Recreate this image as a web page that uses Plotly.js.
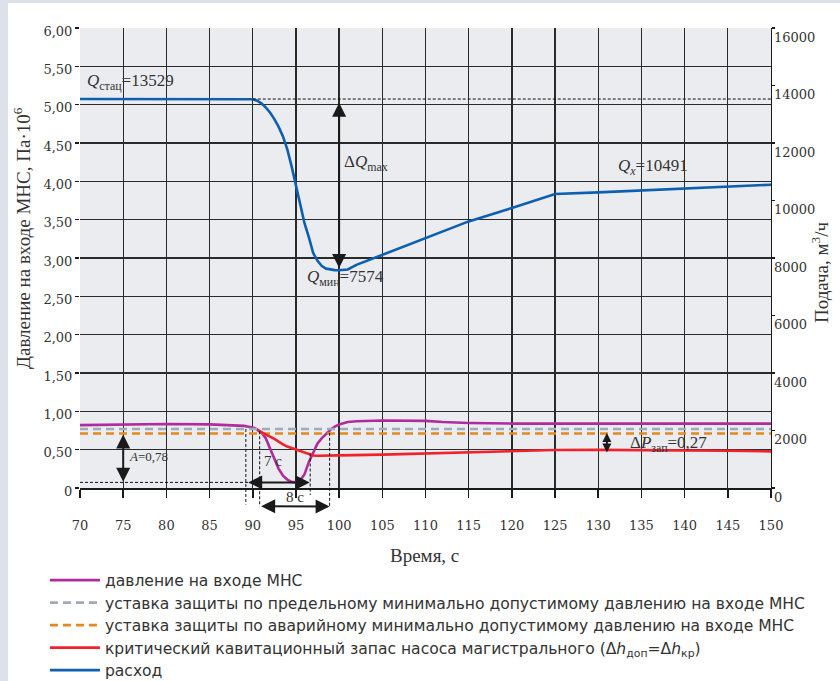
<!DOCTYPE html>
<html>
<head>
<meta charset="utf-8">
<script src="https://cdn.plot.ly/plotly-3.0.1.min.js"></script>
<style>
html,body{margin:0;padding:0;background:#dde2ea;width:840px;height:681px;overflow:hidden;}
#chart{position:absolute;left:8px;top:3px;width:832px;height:700px;background:#fff;}
</style>
</head>
<body>
<div id="chart"></div>
<script>
// ---- Data ----
const flowTime = [70, 89.5, 90, 90.5, 91, 91.5, 92, 92.5, 93, 93.5, 94, 94.5, 95, 95.5, 96, 96.5, 97, 97.5, 98, 98.5, 99, 99.5, 100, 100.5, 101, 102, 105, 110, 115, 120, 125, 130, 135, 140, 145, 150];
const flowValue = [13529, 13529, 13520, 13470, 13380, 13240, 13060, 12830, 12560, 12229, 11780, 11186, 10500, 9820, 9200, 8720, 8174, 7900, 7720, 7630, 7593, 7580, 7574, 7576, 7600, 7760, 8110, 8680, 9273, 9739, 10226, 10282, 10351, 10421, 10490, 10549];

const pressTime = [70, 75, 80, 85, 88, 89, 89.5, 90, 90.5, 91, 91.5, 92, 92.5, 93, 93.5, 94, 94.5, 95, 95.5, 96, 96.5, 97, 97.5, 98, 98.5, 99, 99.5, 100, 101, 102, 105, 110, 112, 115, 120, 130, 140, 150];
const pressValue = [0.82, 0.83, 0.835, 0.83, 0.82, 0.81, 0.80, 0.79, 0.765, 0.725, 0.65, 0.52, 0.38, 0.25, 0.16, 0.11, 0.08, 0.075, 0.10, 0.18, 0.34, 0.47, 0.58, 0.65, 0.71, 0.76, 0.80, 0.83, 0.86, 0.87, 0.88, 0.875, 0.86, 0.848, 0.84, 0.84, 0.84, 0.84];

const critTime = [90.6, 91, 91.5, 92, 92.5, 93, 93.5, 94, 94.5, 95, 95.5, 96, 96.5, 97, 97.5, 98, 100, 105, 110, 115, 120, 125, 130, 135, 140, 145, 150];
const critValue = [0.75, 0.73, 0.70, 0.67, 0.64, 0.60, 0.57, 0.54, 0.52, 0.50, 0.48, 0.455, 0.435, 0.425, 0.42, 0.42, 0.425, 0.435, 0.45, 0.468, 0.485, 0.495, 0.497, 0.495, 0.49, 0.485, 0.478];

const limitTime = [70, 150];
const limitValue = [0.77, 0.77];      // предельная уставка
const alarmValue = [0.71, 0.71];      // аварийная уставка

const Qstat = 13529, Qmin = 7574, Qx = 10491;
const Amin = 0.073, Amax = 0.717;
const dPtop = 0.738, dPbot = 0.464, dPtime = 131;
const sevenStart = 89.3, sevenEnd = 96.6;
const eightStart = 90.8, eightEnd = 98.9;
const guideTimes = [89.2, 90.8, 96.65, 98.9];
const guideTop = [0.77, 0.74, 0.45, 0.72];

const xTicks = [70,75,80,85,90,95,100,105,110,115,120,125,130,135,140,145,150];
const yTicks = [0,0.5,1,1.5,2,2.5,3,3.5,4,4.5,5,5.5,6];
const yTickText = ['0','0,50','1,00','1,50','2,00','2,50','3,00','3,50','4,00','4,50','5,00','5,50','6,00'];
const y2Ticks = [0,2000,4000,6000,8000,10000,12000,14000,16000];

const names = [
  'давление на входе МНС',
  'уставка защиты по предельному минимально допустимому давлению на входе МНС',
  'уставка защиты по аварийному минимально допустимому давлению на входе МНС',
  'критический кавитационный запас насоса магистрального (Δ<i>h</i><sub>доп</sub>=Δ<i>h</i><sub>кр</sub>)',
  'расход'
];

// ---- Styles ----
const serif = 'Liberation Serif, Times New Roman, serif';
const tickFont = {family: 'DejaVu Serif, serif', size: 13, color: '#333'};
const txt = '#333';
const arrowCol = '#1a1a1a';

const traces = [
  {x: pressTime, y: pressValue, name: names[0], mode: 'lines', line: {color: '#b02c9d', width: 2.6}, yaxis: 'y'},
  {x: limitTime, y: limitValue, name: names[1], mode: 'lines', line: {color: '#9eabb8', width: 2.6, dash: '8px,5px'}, yaxis: 'y'},
  {x: limitTime, y: alarmValue, name: names[2], mode: 'lines', line: {color: '#e5891f', width: 2.6, dash: '8px,5px'}, yaxis: 'y'},
  {x: critTime, y: critValue, name: names[3], mode: 'lines', line: {color: '#f0222c', width: 2.6}, yaxis: 'y'},
  {x: flowTime, y: flowValue, name: names[4], mode: 'lines', line: {color: '#0d5fb0', width: 2.6}, yaxis: 'y2'}
];

function dblArrow(x, y, ax, ay, xref, yref, axref, ayref, size) {
  return {x: x, y: y, ax: ax, ay: ay, xref: xref, yref: yref, axref: axref, ayref: ayref,
    text: '', showarrow: true, arrowhead: 2, startarrowhead: 2, arrowside: 'end+start',
    arrowsize: size, startarrowsize: size, arrowwidth: 2, arrowcolor: arrowCol, standoff: 0, startstandoff: 0};
}

const annFont = {family: serif, size: 17, color: txt};
const annotations = [
  dblArrow(100, Qmin + 80, 100, Qstat - 80, 'x', 'y2', 'x', 'y2', 1.4),
  dblArrow(75, Amin + 0.01, 75, Amax, 'x', 'y', 'x', 'y', 1.4),
  dblArrow(sevenEnd, Amin, sevenStart, Amin, 'x', 'y', 'x', 'y', 1.4),
  dblArrow(eightEnd, -0.040, eightStart, -0.040, 'x', 'paper', 'x', 'pixel', 1.4),
  dblArrow(dPtime, dPbot, dPtime, dPtop, 'x', 'y', 'x', 'y', 0.9),
  {x: 70.6, y: 5.30, xref: 'x', yref: 'y', xanchor: 'left', yanchor: 'middle', showarrow: false,
   text: '<i>Q</i><sub>стац</sub>=13529', font: annFont},
  {x: 100.3, y: 4.24, xref: 'x', yref: 'y', xanchor: 'left', yanchor: 'middle', showarrow: false,
   text: 'Δ<i>Q</i><sub>max</sub>', font: annFont},
  {x: 96.0, y: 2.74, xref: 'x', yref: 'y', xanchor: 'left', yanchor: 'middle', showarrow: false,
   text: '<i>Q</i><sub>мин</sub>=7574', font: annFont},
  {x: 132.0, y: 4.19, xref: 'x', yref: 'y', xanchor: 'left', yanchor: 'middle', showarrow: false,
   text: '<i>Q</i><sub><i>x</i></sub>=10491', font: annFont},
  {x: 75.4, y: 0.41, xref: 'x', yref: 'y', xanchor: 'left', yanchor: 'middle', showarrow: false,
   text: '<i>A</i>=0,78', font: {family: serif, size: 13, color: txt}},
  {x: 92.35, y: 0.35, xref: 'x', yref: 'y', xanchor: 'center', yanchor: 'middle', showarrow: false,
   text: '7 c', font: {family: serif, size: 15, color: txt}},
  {x: 94.9, y: -0.019, xref: 'x', yref: 'paper', xanchor: 'center', yanchor: 'middle', showarrow: false,
   text: '8 c', font: {family: serif, size: 15, color: txt}},
  {x: 133.5, y: 0.57, xref: 'x', yref: 'y', xanchor: 'left', yanchor: 'middle', showarrow: false,
   text: 'Δ<i>P</i><sub>зап</sub>=0,27', font: annFont},
  // axis titles
  {x: 0.499, y: -0.1457, xref: 'paper', yref: 'paper', xanchor: 'center', yanchor: 'middle', showarrow: false,
   text: 'Время, с', font: {family: serif, size: 19, color: txt}},
  {x: -0.0839, y: 0.5435, xref: 'paper', yref: 'paper', xanchor: 'center', yanchor: 'middle', showarrow: false,
   textangle: -90, text: 'Давление на входе МНС, Па·10<sup>6</sup>', font: {family: serif, size: 19, color: txt}},
  {x: 1.0709, y: 0.4696, xref: 'paper', yref: 'paper', xanchor: 'center', yanchor: 'middle', showarrow: false,
   textangle: -90, text: 'Подача, м<sup>3</sup>/ч', font: {family: serif, size: 19, color: txt}}
];

const shapes = [
  {type: 'line', xref: 'x', yref: 'y2', x0: 90, x1: 150, y0: Qstat, y1: Qstat, line: {color: '#111', width: 1, dash: '3px,2px'}},
  {type: 'line', xref: 'x', yref: 'y', x0: 70, x1: 90.2, y0: Amin, y1: Amin, line: {color: '#111', width: 1, dash: '3px,2px'}}
];
const guideBottom = [-0.036, -0.040, -0.015, -0.040];
guideTimes.forEach((t, i) => {
  shapes.push({type: 'line', xref: 'x', yref: 'paper', x0: t, x1: t, y0: guideTop[i] / 6, y1: guideBottom[i],
    line: {color: '#111', width: 1, dash: '3px,2px'}});
});

const layout = {
  width: 832, height: 700,
  margin: {l: 72, r: 69, t: 25, b: 215},
  paper_bgcolor: '#ffffff',
  plot_bgcolor: '#ebecf0',
  showlegend: true,
  legend: {x: -0.0507, y: -0.165, xanchor: 'left', yanchor: 'top', orientation: 'v',
    bgcolor: 'rgba(0,0,0,0)', tracegroupgap: 0, itemwidth: 50,
    font: {family: 'DejaVu Sans Condensed, sans-serif', size: 15, color: '#333'}},
  xaxis: {range: [70, 150], tickvals: xTicks, ticktext: xTicks.map(String),
    showgrid: true, gridcolor: '#2a2a2a', gridwidth: 1.3,
    showline: true, linecolor: '#1a1a1a', linewidth: 2.2, zeroline: false,
    ticks: 'outside', ticklen: 8, tickwidth: 1.6, tickcolor: '#1a1a1a',
    tickfont: tickFont, ticklabelstandoff: 16, fixedrange: true},
  yaxis: {range: [0, 6], tickvals: yTicks, ticktext: yTickText,
    showgrid: true, gridcolor: '#2a2a2a', gridwidth: 1.3, zeroline: false,
    showline: false, ticks: 'outside', ticklen: 4, tickwidth: 1.3, tickcolor: '#1a1a1a',
    tickfont: tickFont, ticklabelshift: 3, fixedrange: true},
  yaxis2: {range: [0, 16000], tickvals: y2Ticks, ticktext: y2Ticks.map(String),
    overlaying: 'y', side: 'right', showgrid: false, zeroline: false,
    showline: true, linecolor: '#1a1a1a', linewidth: 1.3,
    ticks: 'outside', ticklen: 3, tickwidth: 1.3, tickcolor: '#1a1a1a',
    tickfont: tickFont, ticklabelshift: 9, ticklabelstandoff: -4, fixedrange: true},
  annotations: annotations,
  shapes: shapes
};

Plotly.newPlot('chart', traces, layout, {displayModeBar: false, staticPlot: true}).then(function (gd) {
  // size the legend lettering like the original (long entry ≈ 700 px wide, taller glyphs)
  var texts = gd.querySelectorAll('.legend .legendtext');
  var maxW = 0;
  texts.forEach(function (t) { maxW = Math.max(maxW, t.getComputedTextLength()); });
  if (maxW > 0) {
    var sx = 700 / maxW, sy = 1.08;
    texts.forEach(function (t) {
      var x = parseFloat(t.getAttribute('x')) || 0;
      t.setAttribute('transform', 'translate(' + x + ',0) scale(' + sx + ',' + sy + ') translate(' + (-x) + ',0)');
    });
  }
  gd.querySelectorAll('.legend [clip-path]').forEach(function (el) { el.removeAttribute('clip-path'); });
  gd.querySelectorAll('.legend').forEach(function (el) { el.style.overflow = 'visible'; });
});
</script>
</body>
</html>
